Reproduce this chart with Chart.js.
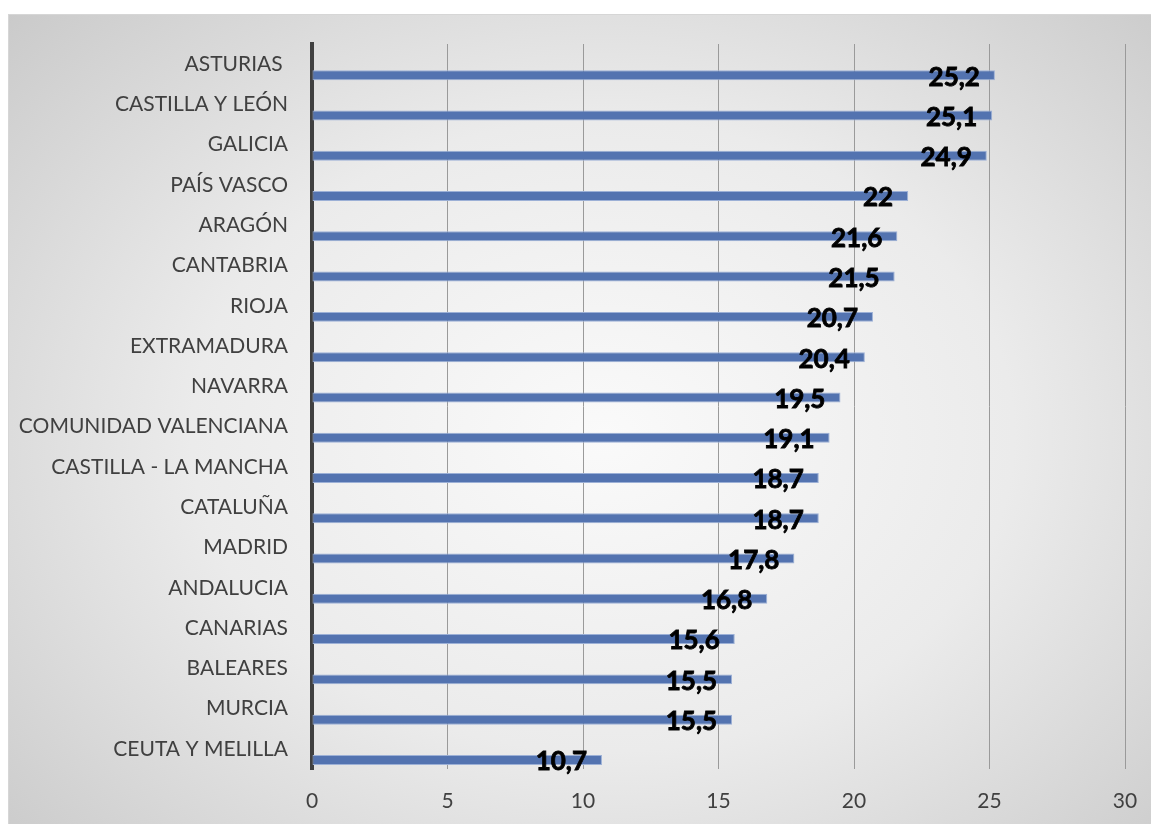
<!DOCTYPE html>
<html>
<head>
<meta charset="utf-8">
<script src="https://cdn.jsdelivr.net/npm/chart.js@4"></script>
<style>
  html, body { margin: 0; padding: 0; background: #fff; }
  #box {
    position: absolute; left: 8px; top: 14px;
    width: 1143px; height: 810px;
    border-top: 1px solid #d6d6d6; border-left: 1px solid #d6d6d6;
    box-sizing: border-box;
    background: radial-gradient(ellipse 72% 78% at 52% 52%, #fafafa 0%, #ebebeb 50%, #c9c9c9 100%);
  }
  #chart { display: block; }
</style>
</head>
<body>
<div id="box"><canvas id="chart" width="1142" height="809"></canvas></div>
<script>
const regions = [
  'ASTURIAS ', 'CASTILLA Y LEÓN', 'GALICIA', 'PAÍS VASCO', 'ARAGÓN', 'CANTABRIA',
  'RIOJA', 'EXTRAMADURA', 'NAVARRA', 'COMUNIDAD VALENCIANA', 'CASTILLA - LA MANCHA',
  'CATALUÑA', 'MADRID', 'ANDALUCIA', 'CANARIAS', 'BALEARES', 'MURCIA', 'CEUTA Y MELILLA'
];
const values = [25.2, 25.1, 24.9, 22, 21.6, 21.5, 20.7, 20.4, 19.5, 19.1, 18.7, 18.7, 17.8, 16.8, 15.6, 15.5, 15.5, 10.7];
// empty slot so each bar sits in the lower half of its row
const spacer = regions.map(() => null);
const xTicks = [0, 5, 10, 15, 20, 25, 30];

const fmt = v => String(v).replace('.', ',');

// value labels drawn right-aligned just inside the end of each bar
const barLabels = {
  id: 'barLabels',
  afterDatasetsDraw(chart) {
    const ctx = chart.ctx;
    const meta = chart.getDatasetMeta(1);
    ctx.save();
    ctx.font = 'bold 26px Lato';
    ctx.fillStyle = '#000';
    ctx.strokeStyle = '#000';
    ctx.lineWidth = 0.8;
    ctx.textAlign = 'right';
    ctx.textBaseline = 'middle';
    meta.data.forEach((bar, i) => {
      const txt = fmt(values[i]);
      ctx.fillText(txt, bar.x - 15, bar.y + 2);
      ctx.strokeText(txt, bar.x - 15, bar.y + 2);
    });
    ctx.restore();
  }
};

new Chart(document.getElementById('chart'), {
  type: 'bar',
  data: {
    labels: regions,
    datasets: [
      { data: spacer },
      {
        data: values,
        backgroundColor: '#5373b0',
        borderColor: '#9cb0d6',
        borderWidth: 1,
        borderSkipped: false
      }
    ]
  },
  options: {
    indexAxis: 'y',
    responsive: false,
    animation: false,
    categoryPercentage: 1.1,
    barPercentage: 0.45,
    layout: { padding: { top: 29, right: 26, left: 0, bottom: 0 } },
    plugins: { legend: { display: false }, tooltip: { enabled: false } },
    scales: {
      x: {
        min: 0, max: 30,
        afterBuildTicks: axis => { axis.ticks = xTicks.map(v => ({ value: v })); },
        grid: { color: '#9a9a9a', lineWidth: 1, drawTicks: false },
        border: { display: false },
        ticks: { color: '#404040', font: { family: 'Lato', size: 21 }, padding: 20 },
        afterFit: axis => {
          axis.height = 55;
          axis.paddingLeft = 0;
          axis.paddingRight = 0;
        }
      },
      y: {
        grid: { display: false, drawTicks: false },
        border: { display: true, color: '#404040', width: 4 },
        ticks: { color: '#404040', font: { family: 'Lato', size: 21 }, padding: 24 },
        afterFit: axis => {
          axis.width = 303;
          axis.paddingTop = 0;
          axis.paddingBottom = 0;
        }
      }
    }
  },
  plugins: [barLabels]
});
</script>
</body>
</html>
